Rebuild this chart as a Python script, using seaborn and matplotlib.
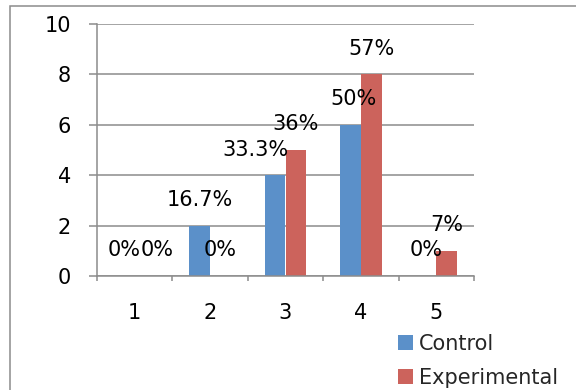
import matplotlib
matplotlib.use("Agg")
import matplotlib.pyplot as plt
from matplotlib.patches import Rectangle
import seaborn as sns
import pandas as pd

# Score categories and counts per group
categories = ["1", "2", "3", "4", "5"]
control = [0, 2, 4, 6, 0]
experimental = [0, 0, 5, 8, 1]
control_labels = ["0%", "16.7%", "33.3%", "50%", "0%"]
experimental_labels = ["0%", "0%", "36%", "57%", "7%"]
groups = ["Control", "Experimental"]
y_ticks = [0, 2, 4, 6, 8, 10]

# Horizontal nudges (pixels) for a few crowded value labels
label_nudge = {("Control", "3"): -20, ("Experimental", "1"): 12, ("Control", "4"): 3}

sns.set_theme(style="white")
plt.rcParams["font.family"] = ["DejaVu Sans"]

blue = "#5B90C9"
red = "#CC635C"
grid_gray = "#8C8C8C"

df = pd.DataFrame({
    "Score": categories * 2,
    "Count": control + experimental,
    "Group": [groups[0]] * len(categories) + [groups[1]] * len(categories),
    "Label": control_labels + experimental_labels,
})

fig = plt.figure(figsize=(5.76, 3.90), dpi=100)
ax = fig.add_axes([97 / 576, 1 - 276 / 390, (474 - 97) / 576, (276 - 24) / 390])

sns.barplot(data=df, x="Score", y="Count", hue="Group", order=categories,
            hue_order=groups, palette=[blue, red], width=0.557, gap=0,
            saturation=1, ax=ax, legend=True, linewidth=0)

ax.set_xlim(-0.5, len(categories) - 0.5)
ax.set_ylim(y_ticks[0], y_ticks[-1])
ax.set_yticks(y_ticks)
ax.set_xlabel("")
ax.set_ylabel("")

# Gridlines behind the bars
ax.set_axisbelow(True)
ax.yaxis.grid(True, color=grid_gray, linewidth=1.1)
ax.xaxis.grid(False)

for side in ["top", "right"]:
    ax.spines[side].set_visible(False)
for side in ["left", "bottom"]:
    ax.spines[side].set_color(grid_gray)
    ax.spines[side].set_linewidth(1.1)

fs = 15
ax.tick_params(axis="y", which="major", length=5.8, width=1.1, color=grid_gray,
               direction="out", pad=13, labelsize=fs, labelcolor="black", left=True)
ax.tick_params(axis="x", which="major", length=0, pad=19.5, labelsize=fs,
               labelcolor="black")
ax.set_xticks([i - 0.5 for i in range(len(categories) + 1)], minor=True)
ax.tick_params(axis="x", which="minor", length=3.6, width=1.1, color=grid_gray,
               direction="out", bottom=True)

# Value labels above each bar
for container, grp in zip(ax.containers, groups):
    sub = df[df["Group"] == grp]
    for bar, (_, row) in zip(container, sub.iterrows()):
        cx = bar.get_x() + bar.get_width() / 2
        dx = label_nudge.get((grp, row["Score"]), 0)
        ax.annotate(row["Label"], xy=(cx, bar.get_height()),
                    xytext=(dx, 19.5), textcoords="offset pixels",
                    ha="center", va="baseline", fontsize=fs, color="black",
                    annotation_clip=False)

leg = ax.legend(loc="upper left", bbox_to_anchor=(398 / 576, 1 - 334 / 390),
                bbox_transform=fig.transFigure, frameon=False, fontsize=fs,
                handlelength=0.7, handleheight=0.7, handletextpad=0.3,
                labelspacing=0.65, borderpad=0, borderaxespad=0)

# Chart-area border
fig.patches.append(Rectangle((10 / 576, -0.1), 1.2, 1 - 6 / 390 + 0.1,
                             transform=fig.transFigure, fill=False,
                             edgecolor=grid_gray, linewidth=1.1))

fig.savefig("out.png", dpi=100)
